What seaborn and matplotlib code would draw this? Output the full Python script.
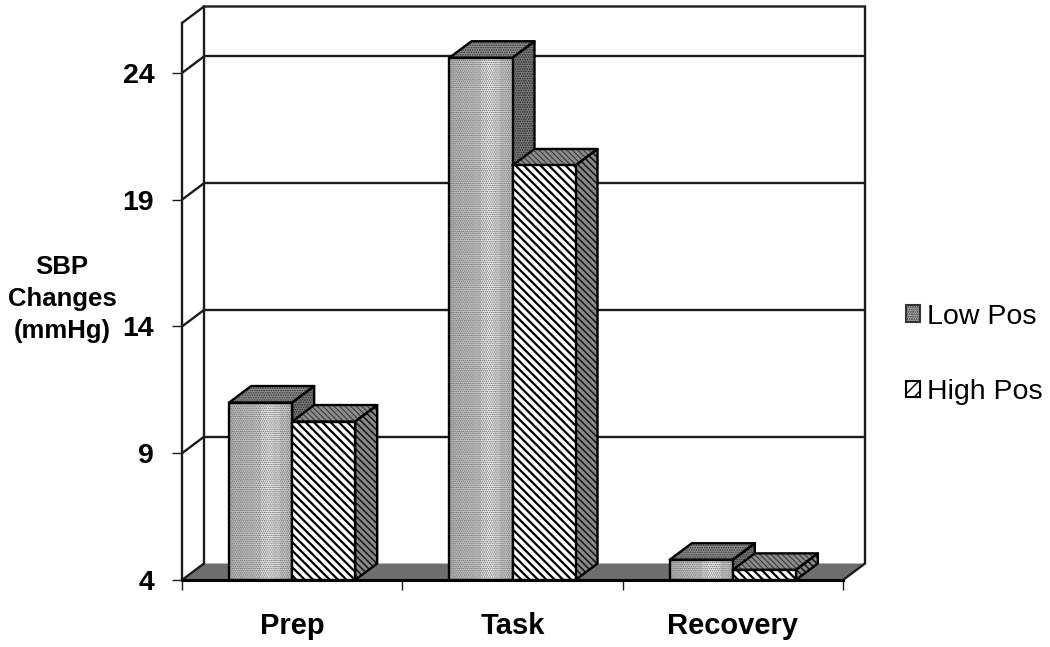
import numpy as np
import pandas as pd
import matplotlib
matplotlib.use('Agg')
import matplotlib.pyplot as plt
from matplotlib.patches import Polygon, Rectangle, Patch
import seaborn as sns

phases = ['Prep', 'Task', 'Recovery']
low_pos = [11.0, 24.6, 4.8]
high_pos = [10.25, 20.35, 4.4]
series_names = ['Low Pos', 'High Pos']
yticks = [4, 9, 14, 19, 24]
ylabel_text = 'SBP\nChanges\n(mmHg)'

sns.set_theme(style='white')
plt.rcParams['font.family'] = ['Liberation Sans', 'DejaVu Sans']

df = pd.DataFrame({
    'phase': phases * 2,
    'group': [series_names[0]] * 3 + [series_names[1]] * 3,
    'value': low_pos + high_pos,
})

fig = plt.figure(figsize=(10.5, 6.47), dpi=100)
ax = fig.add_axes([182 / 1050, 67 / 647, 661 / 1050, 557 / 647])

sns.barplot(data=df, x='phase', y='value', hue='group', order=phases,
            hue_order=series_names, palette=['#b4b4b4', 'white'],
            width=0.572, gap=0, legend=False, ax=ax, saturation=1)

ymin, ymax = 4, 25.97
ax.set_xlim(-0.5, 2.5)
ax.set_ylim(ymin, ymax)

# 3d look: offset of the back plane in data units
DX = 22 / 220.3
DY = 16.5 / 25.35
LW = 1.7
DARK = '#1c1c1c'

x0, x1 = -0.5, 2.5
ax.add_patch(Polygon([(x0, ymin), (x0 + DX, ymin + DY), (x1 + DX, ymin + DY), (x1, ymin)],
                     closed=True, fc='#6e6e6e', ec='none', clip_on=False, zorder=1))
for t in yticks[1:]:
    ax.plot([x0 + DX, x1 + DX], [t + DY, t + DY], color=DARK, lw=LW, clip_on=False, zorder=1.5)
for t in yticks + [ymax]:
    ax.plot([x0, x0 + DX], [t, t + DY], color=DARK, lw=LW, clip_on=False, zorder=1.5)
ax.plot([x0 + DX, x0 + DX, x1 + DX, x1 + DX, x1], [ymin + DY, ymax + DY, ymax + DY, ymin + DY, ymin],
        color=DARK, lw=LW, clip_on=False, zorder=1.5, solid_joinstyle='miter')


def face(pts, fc, hatch, hatch_color, z, hatch_lw):
    p = Polygon(pts, closed=True, fc=fc, ec=hatch_color, hatch=hatch, lw=0, clip_on=False, zorder=z)
    p.set_hatch_linewidth(hatch_lw)
    ax.add_patch(p)
    ax.add_patch(Polygon(pts, closed=True, fc='none', ec='black', lw=LW, clip_on=False,
                         zorder=z + 0.01, joinstyle='round'))


# light band across the stippled front faces
band = np.array([[0.72, 0.74, 0.76, 0.78, 0.80, 0.88, 0.92, 0.88, 0.80, 0.76]])

for s, container in enumerate(ax.containers):
    for bar in container:
        left = bar.get_x()
        right = left + bar.get_width()
        top = bar.get_height()
        z = 3 + s
        side = [(right, ymin), (right + DX, ymin + DY), (right + DX, top + DY), (right, top)]
        lid = [(left, top), (left + DX, top + DY), (right + DX, top + DY), (right, top)]
        if s == 0:
            face(side, '#7a7a7a', '.......', '#2a2a2a', z, 0.8)
            face(lid, '#8c8c8c', '.......', '#3a3a3a', z, 0.8)
            ax.imshow(band, cmap='gray', vmin=0, vmax=1, aspect='auto', zorder=z + 0.1,
                      extent=(left, right, ymin, top))
            bar.set(facecolor='none', edgecolor='#6e6e6e', hatch='........', linewidth=0, zorder=z + 0.2)
            bar.set_hatch_linewidth(0.7)
        else:
            face(side, '#8a8a8a', '\\\\\\\\\\', '#1a1a1a', z, 1.2)
            face(lid, '#8c8c8c', '\\\\\\\\\\\\', '#3a3a3a', z, 0.8)
            bar.set(facecolor='white', edgecolor='black', hatch='\\\\\\\\', linewidth=0, zorder=z + 0.2)
            bar.set_hatch_linewidth(1.6)
        ax.add_patch(Rectangle((left, ymin), right - left, top - ymin, fc='none', ec='black',
                               lw=LW, zorder=z + 0.3, clip_on=False))

ax.set_xlim(-0.5, 2.5)
ax.set_ylim(ymin, ymax)

# axes, ticks
sns.despine(ax=ax, top=True, right=True)
ax.spines['left'].set(color=DARK, linewidth=LW)
ax.spines['bottom'].set(color='black', linewidth=2.2)
ax.spines['bottom'].set_zorder(8)
ax.set_yticks(yticks)
ax.tick_params(axis='y', left=True, length=7, width=1, color=DARK, pad=13)
ax.set_xticks(range(3), phases)
ax.set_xticks([-0.5, 0.5, 1.5, 2.5], minor=True)
ax.tick_params(axis='x', which='major', bottom=False, pad=17)
ax.tick_params(axis='x', which='minor', bottom=True, length=7.5, width=1, color=DARK)
for lab in ax.get_xticklabels():
    lab.set_fontsize(21)
    lab.set_fontweight('bold')
    lab.set_color('black')
for lab in ax.get_yticklabels():
    lab.set_fontsize(20.5)
    lab.set_fontweight('bold')
    lab.set_color('black')
ax.set_xlabel('')
ax.set_ylabel('')
fig.text(62 / 1050, 1 - 299 / 647, ylabel_text, ha='center', va='center', ma='center',
         fontsize=18.5, fontweight='bold', linespacing=1.41, color='black')

# legend
h_low = Patch(fc='#b4b4b4', ec='#333333', hatch='.......', lw=1.5)
h_high = Patch(fc='white', ec='black', hatch='///', lw=1.5)
h_low.set_hatch_linewidth(0.6)
h_high.set_hatch_linewidth(1.6)
fig.legend(handles=[h_low, h_high], labels=series_names, loc='center left',
           bbox_to_anchor=(906 / 1050, 1 - 354.5 / 647), frameon=False, fontsize=20.5,
           handlelength=0.5, handleheight=0.5, handletextpad=0.25, labelspacing=1.75,
           borderpad=0, borderaxespad=0, labelcolor='black')

fig.savefig('out.png', dpi=100)
